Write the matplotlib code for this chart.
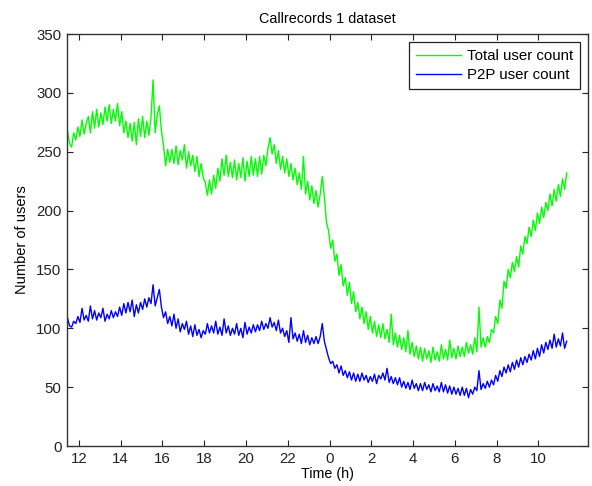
import numpy as np
import matplotlib
matplotlib.use("Agg")
import matplotlib.pyplot as plt

plt.rcParams['font.family'] = ['Liberation Sans', 'DejaVu Sans']

# sampling: one value every 0.1 h starting at 11.45 h (hours past midnight continue beyond 24)
t_start = 11.45
t_step = 0.1

total_users = [
    268, 257, 254, 266, 260, 271, 263, 277, 265, 274,
    280, 266, 284, 270, 286, 271, 283, 273, 288, 276,
    290, 274, 286, 276, 291, 272, 284, 266, 276, 262,
    274, 259, 275, 256, 278, 263, 280, 262, 276, 264,
    279, 311, 266, 281, 289, 268, 255, 238, 252, 241,
    252, 240, 255, 239, 251, 243, 256, 236, 250, 238,
    247, 233, 246, 229, 240, 228, 224, 213, 226, 214,
    230, 219, 236, 225, 244, 230, 247, 229, 241, 228,
    243, 226, 240, 228, 245, 225, 242, 229, 246, 230,
    244, 229, 246, 231, 247, 238, 253, 262, 248, 256,
    240, 251, 235, 246, 232, 244, 229, 240, 226, 236,
    222, 232, 218, 246, 214, 225, 209, 221, 206, 217,
    203, 214, 229, 212, 190, 183, 168, 175, 157, 163,
    145, 154, 136, 143, 128, 139, 121, 131, 114, 122,
    108, 118, 104, 114, 99, 110, 96, 106, 93, 103,
    92, 104, 91, 99, 88, 112, 86, 96, 84, 94,
    82, 92, 80, 98, 78, 88, 76, 85, 74, 84,
    72, 83, 74, 81, 71, 84, 73, 80, 72, 86,
    74, 82, 73, 90, 75, 83, 74, 85, 76, 84,
    76, 88, 79, 86, 78, 92, 80, 118, 84, 92,
    84, 93, 88, 99, 96, 110, 104, 124, 117, 140,
    134, 150, 143, 156, 148, 161, 152, 170, 163, 178,
    172, 186, 178, 192, 183, 198, 189, 203, 194, 207,
    200, 214, 204, 218, 208, 222, 212, 227, 218, 232,
]

p2p_users = [
    109, 102, 101, 106, 104, 110, 105, 117, 107, 111,
    106, 119, 108, 115, 107, 113, 109, 117, 106, 112,
    108, 115, 109, 114, 110, 118, 111, 121, 113, 122,
    114, 124, 110, 120, 113, 122, 116, 125, 118, 126,
    121, 137, 119, 126, 133, 118, 109, 114, 104, 110,
    102, 112, 100, 108, 97, 104, 99, 106, 95, 102,
    93, 103, 94, 99, 92, 98, 95, 104, 96, 102,
    96, 106, 95, 101, 94, 108, 96, 102, 94, 100,
    95, 104, 94, 100, 92, 105, 95, 101, 96, 103,
    97, 103, 98, 106, 99, 104, 100, 109, 101, 105,
    98, 107, 96, 100, 93, 98, 88, 109, 91, 96,
    89, 95, 87, 98, 88, 94, 86, 92, 87, 93,
    87, 93, 104, 89, 82, 75, 70, 72, 66, 69,
    62, 68, 60, 64, 58, 63, 56, 62, 55, 61,
    55, 62, 56, 60, 54, 59, 55, 61, 53, 60,
    57, 62, 56, 66, 54, 59, 53, 58, 52, 58,
    50, 55, 49, 54, 48, 56, 49, 53, 47, 53,
    47, 54, 48, 52, 46, 53, 47, 51, 46, 54,
    46, 52, 45, 51, 44, 50, 44, 49, 43, 50,
    43, 49, 41, 48, 44, 50, 47, 64, 48, 53,
    49, 55, 50, 56, 52, 60, 55, 64, 59, 67,
    62, 69, 63, 71, 65, 73, 67, 75, 69, 76,
    71, 78, 73, 81, 74, 83, 76, 86, 79, 88,
    82, 90, 83, 95, 84, 91, 85, 96, 83, 89,
]

xtick_values = [12, 14, 16, 18, 20, 22, 24, 26, 28, 30, 32, 34]
xtick_labels = ['12', '14', '16', '18', '20', '22', '0', '2', '4', '6', '8', '10']
ytick_values = [0, 50, 100, 150, 200, 250, 300, 350]

t = t_start + t_step * np.arange(len(total_users))

fig = plt.figure(figsize=(5.92, 4.86), dpi=100)
ax = fig.add_axes([67/592, 1 - 446/486, (588 - 67)/592, (446 - 34)/486])

ax.plot(t, total_users, color='#00ff00', lw=1.0, label='Total user count')
ax.plot(t, p2p_users, color='#0000ff', lw=1.0, label='P2P user count')

ax.set_xlim(11.43, 36.37)
ax.set_ylim(0, 350)
ax.set_xticks(xtick_values)
ax.set_xticklabels(xtick_labels)
ax.set_yticks(ytick_values)
ax.tick_params(direction='in', top=True, right=True, length=4, width=0.8,
               labelsize=10.8, colors='#222222', pad=4)
for s in ax.spines.values():
    s.set_color('#333333')
    s.set_linewidth(1.0)

ax.set_title('Callrecords 1 dataset', fontsize=10.4, pad=8)
ax.set_xlabel('Time (h)', fontsize=10.3, labelpad=1)
ax.set_ylabel('Number of users', fontsize=10.5, labelpad=5)

leg = ax.legend(loc='upper right', fontsize=10.8, handlelength=3.0, fancybox=False,
                framealpha=1, edgecolor='#222222', borderaxespad=0.55,
                borderpad=0.45, labelspacing=0.35, handletextpad=0.4)
leg.get_frame().set_linewidth(0.9)

fig.savefig('out.png', dpi=100)
